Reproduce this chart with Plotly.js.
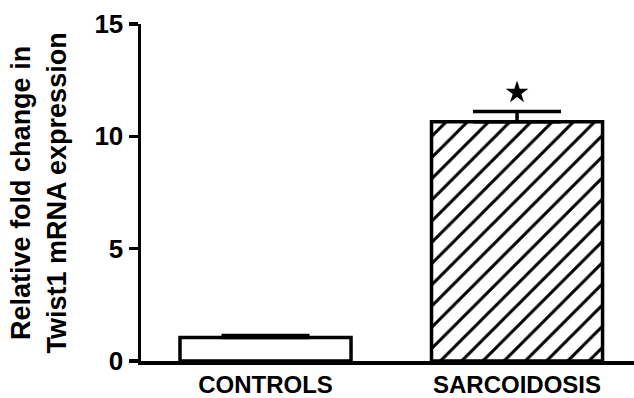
<!DOCTYPE html>
<html>
<head>
<meta charset="utf-8">
<script src="https://cdn.plot.ly/plotly-3.0.1.min.js"></script>
<style>html,body{margin:0;padding:0;background:#fff;}#chart{width:634px;height:398px;}</style>
</head>
<body>
<div id="chart"></div>
<script>
const categories = ["CONTROLS", "SARCOIDOSIS"];
const foldChange = [1.05, 10.65];
const errorUp = [0.08, 0.45];
const errorDown = [0, 0];
const starGroup = ["SARCOIDOSIS"];
const starY = [11.95];
const yTicks = [0, 5, 10, 15];
const yTitle = "Relative fold change in<br>Twist1 mRNA expression";

const FONT = "Liberation Sans, Arial, sans-serif";

const bars = {
  type: "bar",
  x: categories,
  y: foldChange,
  width: 0.68,
  marker: {
    color: "#ffffff",
    line: {color: "#000000", width: 3.5},
    pattern: {
      shape: ["", "/"],
      fgcolor: "#000000",
      fgopacity: 1,
      size: 15,
      solidity: 0.2,
      fillmode: "overlay"
    }
  },
  error_y: {
    type: "data",
    symmetric: false,
    array: errorUp,
    arrayminus: errorDown,
    color: "#000000",
    thickness: 3.5,
    width: 44
  },
  hoverinfo: "skip",
  showlegend: false
};

const star = {
  type: "scatter",
  mode: "markers",
  x: starGroup,
  y: starY,
  marker: {symbol: "star", size: 17, color: "#000000"},
  hoverinfo: "skip",
  showlegend: false
};

const layout = {
  width: 634,
  height: 398,
  margin: {l: 141, r: 0, t: 24, b: 37},
  paper_bgcolor: "#ffffff",
  plot_bgcolor: "#ffffff",
  font: {family: FONT, color: "#000000"},
  bargap: 0.3,
  xaxis: {
    type: "category",
    range: [-0.495, 1.465],
    showline: true,
    linecolor: "#000000",
    linewidth: 3.5,
    ticks: "",
    showgrid: false,
    zeroline: false,
    tickfont: {family: FONT, size: 24, weight: "bold", color: "#000000"},
    ticklabelstandoff: 0
  },
  yaxis: {
    range: [0, 15],
    tickvals: yTicks,
    ticktext: yTicks.map(String),
    showline: true,
    linecolor: "#000000",
    linewidth: 3.5,
    ticks: "outside",
    ticklen: 9,
    tickwidth: 3.5,
    tickcolor: "#000000",
    showgrid: false,
    zeroline: false,
    tickfont: {family: FONT, size: 26, weight: "bold", color: "#000000"},
    title: {text: ""}
  },
  annotations: [{
    xref: "paper", yref: "paper",
    x: -0.207, y: 0.5,
    xanchor: "center", yanchor: "middle",
    textangle: -90,
    showarrow: false,
    text: "<b>" + yTitle + "</b>",
    font: {family: FONT, size: 27, color: "#000000"}
  }]
};

Plotly.newPlot("chart", [bars, star], layout, {staticPlot: true, displayModeBar: false});
</script>
</body>
</html>
